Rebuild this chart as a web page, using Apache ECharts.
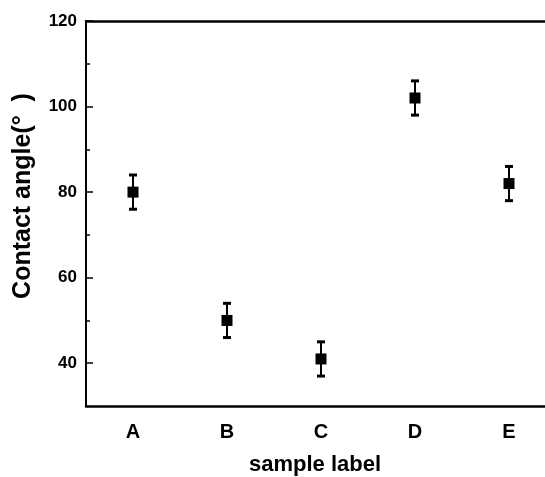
<!DOCTYPE html>
<html>
<head>
<meta charset="utf-8">
<script src="https://cdn.jsdelivr.net/npm/echarts@6/dist/echarts.min.js"></script>
<style>
html,body{margin:0;padding:0;background:#fff;}
#chart{width:545px;height:477px;}
</style>
</head>
<body>
<div id="chart"></div>
<script>
const categories = ['A', 'B', 'C', 'D', 'E'];
const contactAngle = [80, 50, 41, 102, 82];
const errorLow = [76, 46, 37, 98, 78];
const errorHigh = [84, 54, 45, 106, 86];
const majorTicks = [40, 60, 80, 100, 120];
const minorTicks = [50, 70, 90, 110];

const FONT = '"Liberation Sans", Arial, sans-serif';
const chart = echarts.init(document.getElementById('chart'), null, {renderer: 'canvas'});

const errData = categories.map((c, i) => [i, errorLow[i], errorHigh[i]]);

chart.setOption({
  animation: false,
  backgroundColor: '#fff',
  grid: {left: 86, top: 21, right: -11, bottom: 71, containLabel: false, outerBoundsMode: 'none'},
  xAxis: [{
    type: 'category',
    data: categories,
    boundaryGap: true,
    axisLine: {lineStyle: {color: '#000', width: 2.5}},
    axisTick: {inside: true, alignWithLabel: true, length: 6, lineStyle: {color: '#000', width: 1.5}},
    axisLabel: {color: '#000', fontSize: 20, fontWeight: 'bold', fontFamily: FONT, margin: 16},
    splitLine: {show: false},
    name: 'sample label',
    nameLocation: 'middle',
    nameGap: 48,
    nameTextStyle: {color: '#000', fontSize: 22, fontWeight: 'bold', fontFamily: FONT, lineHeight: 22, padding: [0, 12, 0, 0]}
  }, {
    type: 'category',
    data: categories,
    position: 'top',
    axisLine: {lineStyle: {color: '#000', width: 2.5}},
    axisTick: {show: false},
    axisLabel: {show: false},
    splitLine: {show: false}
  }],
  yAxis: [{
    type: 'value',
    min: 30,
    max: 120,
    axisLine: {show: true, lineStyle: {color: '#000', width: 2}},
    axisTick: {show: true, inside: true, length: 7, customValues: majorTicks, lineStyle: {color: '#000', width: 1.5}},
    axisLabel: {show: true, customValues: majorTicks, color: '#000', fontSize: 17, fontWeight: 'bold', fontFamily: FONT, margin: 9},
    splitLine: {show: false},
    name: 'Contact angle(°  )',
    nameLocation: 'middle',
    nameGap: 50,
    nameTextStyle: {color: '#000', fontSize: 25, fontWeight: 'bold', fontFamily: FONT, padding: [0, 0, 0, 35]}
  }, {
    type: 'value',
    min: 30,
    max: 120,
    position: 'left',
    axisLine: {show: false},
    axisTick: {show: true, inside: true, length: 4, customValues: minorTicks, lineStyle: {color: '#000', width: 1.5}},
    axisLabel: {show: false},
    splitLine: {show: false}
  }],
  series: [{
    type: 'custom',
    xAxisIndex: 0,
    yAxisIndex: 0,
    data: errData,
    renderItem: function (params, api) {
      const x = api.value(0);
      const lo = api.coord([x, api.value(1)]);
      const hi = api.coord([x, api.value(2)]);
      const cap = 4;
      const style = {stroke: '#000', lineWidth: 2};
      return {
        type: 'group',
        children: [
          {type: 'line', shape: {x1: lo[0], y1: lo[1], x2: hi[0], y2: hi[1]}, style: style},
          {type: 'line', shape: {x1: lo[0] - cap, y1: lo[1], x2: lo[0] + cap, y2: lo[1]}, style: {stroke: '#000', lineWidth: 3}},
          {type: 'line', shape: {x1: hi[0] - cap, y1: hi[1], x2: hi[0] + cap, y2: hi[1]}, style: {stroke: '#000', lineWidth: 3}}
        ]
      };
    },
    z: 2
  }, {
    type: 'scatter',
    xAxisIndex: 0,
    yAxisIndex: 0,
    data: contactAngle,
    symbol: 'rect',
    symbolSize: [11, 11],
    itemStyle: {color: '#000', opacity: 1},
    z: 3
  }]
});
</script>
</body>
</html>
